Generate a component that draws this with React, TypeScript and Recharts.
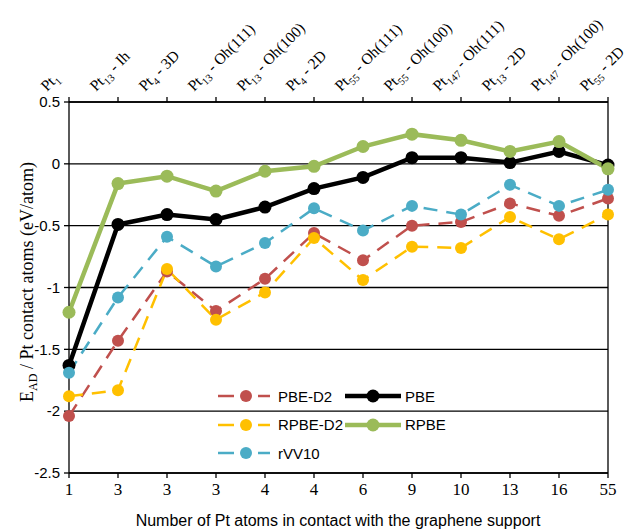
import React from "react";
import { LineChart, Line, XAxis, YAxis, CartesianGrid, ReferenceLine, Legend } from "recharts";

// bottom axis: atoms in contact with the support
const contactAtoms = ["1", "3", "3", "3", "4", "4", "6", "9", "10", "13", "16", "55"];
// top axis: cluster size (subscript) and shape
const clusterSize = ["1", "13", "4", "13", "13", "4", "55", "55", "147", "13", "147", "55"];
const clusterShape = ["", " - Ih", " - 3D", " - Oh(111)", " - Oh(100)", " - 2D", " - Oh(111)", " - Oh(100)", " - Oh(111)", " - 2D", " - Oh(100)", " - 2D"];

const pbeD2 = [-2.04, -1.43, -0.87, -1.19, -0.93, -0.56, -0.78, -0.5, -0.47, -0.32, -0.42, -0.28];
const pbe = [-1.63, -0.49, -0.41, -0.45, -0.35, -0.2, -0.11, 0.05, 0.05, 0.01, 0.1, -0.01];
const rpbeD2 = [-1.88, -1.83, -0.85, -1.26, -1.04, -0.6, -0.94, -0.67, -0.68, -0.43, -0.61, -0.41];
const rpbe = [-1.2, -0.16, -0.1, -0.22, -0.06, -0.02, 0.14, 0.24, 0.19, 0.1, 0.18, -0.04];
const rvv10 = [-1.69, -1.08, -0.59, -0.83, -0.64, -0.36, -0.54, -0.34, -0.41, -0.17, -0.34, -0.21];

const yTicks = [-2.5, -2, -1.5, -1, -0.5, 0, 0.5];
const xTicks = contactAtoms.map((_, i) => i);

const data = contactAtoms.map((c, i) => ({
  i,
  pbeD2: pbeD2[i],
  pbe: pbe[i],
  rpbeD2: rpbeD2[i],
  rpbe: rpbe[i],
  rvv10: rvv10[i],
}));

const series = [
  { key: "pbeD2", name: "PBE-D2", color: "#C0504D", dashed: true },
  { key: "pbe", name: "PBE", color: "#000000", dashed: false },
  { key: "rpbeD2", name: "RPBE-D2", color: "#FFC000", dashed: true },
  { key: "rpbe", name: "RPBE", color: "#9BBB59", dashed: false },
  { key: "rvv10", name: "rVV10", color: "#4BACC6", dashed: true },
];

const serif = "'Liberation Serif', 'Times New Roman', serif";
const sans = "'Liberation Sans', Arial, sans-serif";

function BottomTick(props: any) {
  const { x, y, payload } = props;
  return (
    <text x={x} y={y + 17} textAnchor="middle" fontFamily={serif} fontSize={17} fill="#000">
      {contactAtoms[payload.value]}
    </text>
  );
}

function TopTick(props: any) {
  const { x, payload } = props;
  const i = payload.value;
  const x0 = x - 22;
  const y0 = 92;
  return (
    <g transform={`translate(${x0},${y0})`}>
      <g transform="rotate(-45)">
        <text x={0} y={0} textAnchor="start" fontFamily={serif} fontSize={15.5} fill="#000">
          Pt
          <tspan fontSize={10.5} dy={4}>{clusterSize[i]}</tspan>
          <tspan dy={-4}>{clusterShape[i]}</tspan>
        </text>
      </g>
    </g>
  );
}

function LegendBox() {
  const rows = [
    [series[0], series[1]],
    [series[2], series[3]],
    [series[4]],
  ];
  return (
    <div style={{ fontFamily: sans, fontSize: 15, color: "#000" }}>
      {rows.map((row, r) => (
        <div key={r} style={{ display: "flex", height: 28.5, alignItems: "center" }}>
          {row.map((s) => (
            <div key={s.key} style={{ display: "flex", alignItems: "center", width: 127 }}>
              <svg width={56} height={16}>
                {s.dashed ? (
                  <>
                    <line x1={0} y1={8} x2={16} y2={8} stroke={s.color} strokeWidth={2.5} />
                    <line x1={40} y1={8} x2={52} y2={8} stroke={s.color} strokeWidth={2.5} />
                  </>
                ) : (
                  <line x1={0} y1={8} x2={56} y2={8} stroke={s.color} strokeWidth={4.5} />
                )}
                <circle cx={28} cy={8} r={s.dashed ? 6 : 6.5} fill={s.color} />
              </svg>
              <span style={{ marginLeft: 4 }}>{s.name}</span>
            </div>
          ))}
        </div>
      ))}
    </div>
  );
}

export default function App() {
  return (
    <div style={{ position: "absolute", left: 0, top: 0, width: 627, height: 531, background: "#fff" }}>
      <LineChart width={627} height={531} data={data} margin={{ top: 0, right: 19, bottom: 0, left: 0 }}>
        <CartesianGrid vertical={false} stroke="#000" strokeWidth={1.3} />
        <XAxis
          xAxisId="bottom"
          type="number"
          dataKey="i"
          domain={[0, 11]}
          ticks={xTicks}
          height={58}
          stroke="#000"
          strokeWidth={1.3}
          tickSize={5}
          tickMargin={0}
          tick={(p: any) => <BottomTick {...p} />}
          interval={0}
          label={{
            content: () => (
              <text x={338} y={526} textAnchor="middle" fontFamily={sans} fontSize={16} fill="#000">
                Number of Pt atoms in contact with the graphene support
              </text>
            ),
          }}
        />
        <XAxis
          xAxisId="top"
          orientation="top"
          type="number"
          dataKey="i"
          domain={[0, 11]}
          ticks={xTicks}
          height={102}
          stroke="#000"
          strokeWidth={1.3}
          tickSize={5}
          tickMargin={0}
          tick={(p: any) => <TopTick {...p} />}
          interval={0}
        />
        <YAxis
          domain={[-2.5, 0.5]}
          ticks={yTicks}
          width={69}
          stroke="#000"
          strokeWidth={1.3}
          tickSize={5}
          tickMargin={4}
          tick={{ fill: "#000", fontSize: 15, fontFamily: sans }}
          interval={0}
          label={{
            content: () => (
              <text
                transform="translate(33,282) rotate(-90)"
                textAnchor="middle"
                fontFamily={serif}
                fontSize={18}
                fill="#000"
              >
                E<tspan fontSize={12} dy={4}>AD</tspan>
                <tspan dy={-4}> / Pt contact atoms (eV/atom)</tspan>
              </text>
            ),
          }}
        />
        <ReferenceLine xAxisId="bottom" x={11} stroke="#000" strokeWidth={1.3} />
        <Legend
          layout="vertical"
          align="center"
          verticalAlign="middle"
          content={() => <LegendBox />}
          wrapperStyle={{ left: 218, top: 382, width: 260 }}
        />
        {series.map((s) => (
          <Line
            key={s.key}
            xAxisId="bottom"
            dataKey={s.key}
            name={s.name}
            stroke={s.color}
            strokeWidth={s.dashed ? 2.5 : 4.5}
            strokeDasharray={s.dashed ? "14 9" : undefined}
            dot={{ r: s.dashed ? 6 : 6.5, fill: s.color, stroke: "none" }}
            activeDot={false}
            isAnimationActive={false}
          />
        ))}
      </LineChart>
    </div>
  );
}
